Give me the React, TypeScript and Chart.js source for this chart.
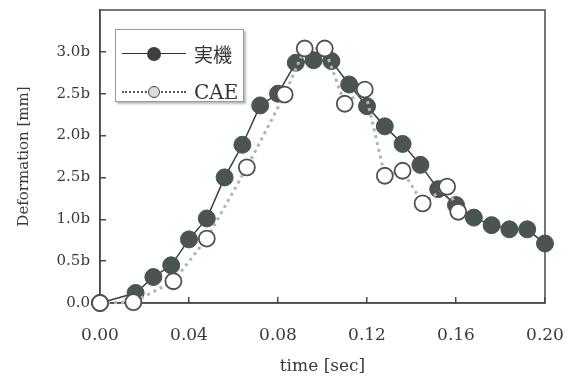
import React, { useEffect, useRef } from "react";
import { Chart, registerables } from "chart.js";
Chart.register(...registerables);

// 実機 (measured)
const realTimes = [0, 0.016, 0.024, 0.032, 0.04, 0.048, 0.056, 0.064, 0.072, 0.08, 0.088, 0.096, 0.104, 0.112, 0.12, 0.128, 0.136, 0.144, 0.152, 0.16, 0.168, 0.176, 0.184, 0.192, 0.2];
const realValues = [0, 0.12, 0.31, 0.45, 0.76, 1.01, 1.5, 1.89, 2.36, 2.5, 2.87, 2.9, 2.89, 2.61, 2.35, 2.11, 1.9, 1.65, 1.36, 1.17, 1.02, 0.93, 0.88, 0.88, 0.71];

// CAE
const caeTimes = [0, 0.015, 0.033, 0.048, 0.066, 0.083, 0.092, 0.101, 0.110, 0.119, 0.128, 0.136, 0.145, 0.156, 0.161];
const caeValues = [0, 0.01, 0.26, 0.77, 1.62, 2.49, 3.04, 3.04, 2.38, 2.55, 1.52, 1.58, 1.19, 1.39, 1.09];

const yTickValues = [0, 0.5, 1, 1.5, 2, 2.5, 3];
const yTickLabels = ["0.0", "0.5b", "1.0b", "2.5b", "2.0b", "2.5b", "3.0b"];
const xTickValues = [0, 0.04, 0.08, 0.12, 0.16, 0.2];
const xTickLabels = ["0.00", "0.04", "0.08", "0.12", "0.16", "0.20"];

const legendLabels = ["実機", "CAE"];
const xTitle = "time [sec]";
const yTitle = "Deformation [mm]";

const FONT = '"DejaVu Serif", "Liberation Serif", serif';
const AXIS = "#4a4a4a";

const framePlugin = {
  id: "frame",
  beforeDatasetsDraw(chart: any) {
    const { ctx, chartArea } = chart;
    ctx.save();
    ctx.strokeStyle = AXIS;
    ctx.lineWidth = 1.5;
    ctx.strokeRect(chartArea.left, chartArea.top, chartArea.right - chartArea.left, chartArea.bottom - chartArea.top);
    ctx.restore();
  },
};

export default function App() {
  const ref = useRef<HTMLCanvasElement | null>(null);

  useEffect(() => {
    document.body.style.margin = "0";
    const canvas = ref.current;
    if (!canvas) return;
    const chart = new Chart(canvas, {
      type: "line",
      data: {
        datasets: [
          {
            label: legendLabels[1],
            data: caeTimes.map((t, i) => ({ x: t, y: caeValues[i] })),
            borderColor: "#b3b3b3",
            borderWidth: 3,
            borderDash: [3, 4],
            pointRadius: 8,
            pointBackgroundColor: "#ffffff",
            pointBorderColor: "#505050",
            pointBorderWidth: 1.8,
            clip: false,
            order: 0,
          },
          {
            label: legendLabels[0],
            data: realTimes.map((t, i) => ({ x: t, y: realValues[i] })),
            borderColor: "#3a3d3c",
            borderWidth: 1.5,
            pointRadius: 8.5,
            pointBackgroundColor: "#4b5450",
            pointBorderColor: "#4b5450",
            pointBorderWidth: 1,
            clip: false,
            order: 1,
          },
        ],
      },
      plugins: [framePlugin],
      options: {
        animation: false,
        responsive: true,
        maintainAspectRatio: false,
        layout: { padding: { top: 10, right: 28, left: 0, bottom: 0 } },
        plugins: { legend: { display: false }, tooltip: { enabled: false } },
        scales: {
          x: {
            type: "linear",
            min: 0,
            max: 0.2,
            afterBuildTicks: (s: any) => {
              s.ticks = xTickValues.map((v) => ({ value: v }));
            },
            afterFit: (s: any) => {
              s.height = 77;
              s.paddingLeft = 0;
              s.paddingRight = 0;
            },
            ticks: {
              callback: (_v: any, i: number) => xTickLabels[i],
              font: { family: FONT, size: 17 },
              color: "#3a3a3a",
              padding: 28,
              maxRotation: 0,
            },
            grid: { drawOnChartArea: false, tickLength: -6, color: AXIS, lineWidth: 1.5 },
            border: { color: AXIS, width: 1.5 },
            title: {
              display: true,
              text: xTitle,
              font: { family: FONT, size: 17 },
              color: "#3a3a3a",
              padding: { top: 0, bottom: 3 },
            },
          },
          y: {
            type: "linear",
            min: 0,
            max: 3.5,
            afterBuildTicks: (s: any) => {
              s.ticks = yTickValues.map((v) => ({ value: v }));
            },
            afterFit: (s: any) => {
              s.width = 100;
              s.paddingTop = 0;
              s.paddingBottom = 0;
            },
            ticks: {
              callback: (_v: any, i: number) => yTickLabels[i],
              font: { family: FONT, size: 15 },
              color: "#3a3a3a",
              padding: 16,
            },
            grid: { drawOnChartArea: false, tickLength: -6, color: AXIS, lineWidth: 1.5 },
            border: { color: AXIS, width: 1.5 },
            title: {
              display: true,
              text: yTitle,
              font: { family: FONT, size: 15 },
              color: "#3a3a3a",
              padding: { top: 15, bottom: 0 },
            },
          },
        },
      },
    });
    return () => chart.destroy();
  }, []);

  const row = (top: number, filled: boolean, label: string) => (
    <div style={{ position: "absolute", left: 0, top: top, width: 129, height: 0 }}>
      <div
        style={{
          position: "absolute",
          left: 6,
          width: 64,
          top: filled ? -0.75 : -1,
          borderTop: filled ? "1.5px solid #333" : "2px dotted #555",
        }}
      />
      <div
        style={{
          position: "absolute",
          left: 38 - (filled ? 7 : 6),
          top: -(filled ? 7 : 6),
          width: filled ? 14 : 10,
          height: filled ? 14 : 10,
          borderRadius: "50%",
          background: filled ? "#3b3f3d" : "#dcdcdc",
          border: filled ? "none" : "1.5px solid #444",
        }}
      />
      <div
        style={{
          position: "absolute",
          left: 78,
          top: -13,
          lineHeight: "26px",
          fontFamily: filled ? '"Noto Sans CJK JP", sans-serif' : FONT,
          fontSize: filled ? 19 : 20,
          color: "#333",
          whiteSpace: "nowrap",
        }}
      >
        {label}
      </div>
    </div>
  );

  return (
    <div style={{ position: "relative", width: 573, height: 380 }}>
      <canvas ref={ref} />
      <div
        style={{
          position: "absolute",
          left: 115,
          top: 29,
          width: 129,
          height: 73,
          border: "1px solid #999",
          background: "#fff",
          boxShadow: "2px 2px 2px #bbb",
          boxSizing: "border-box",
        }}
      >
        {row(24, true, legendLabels[0])}
        {row(62, false, legendLabels[1])}
      </div>
    </div>
  );
}
